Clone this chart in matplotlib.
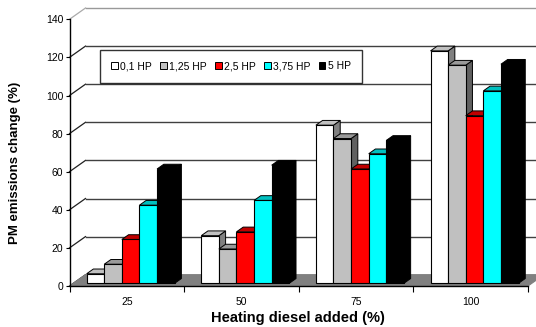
import matplotlib
matplotlib.use("Agg")
import matplotlib.pyplot as plt
from matplotlib.patches import Polygon, Patch

plt.rcParams['font.family'] = ['Liberation Sans', 'DejaVu Sans']

categories = ['25', '50', '75', '100']
series = ['0,1 HP', '1,25 HP', '2,5 HP', '3,75 HP', '5 HP']
v_01 = [5, 25, 83, 122]
v_125 = [10, 18, 76, 114.5]
v_25 = [23, 27, 60, 88]
v_375 = [41, 43.5, 68, 101]
v_5 = [60, 62, 75, 115]
values = [v_01, v_125, v_25, v_375, v_5]
yticks = [0, 20, 40, 60, 80, 100, 120, 140]

front_c = ['#ffffff', '#c0c0c0', '#ff0000', '#00ffff', '#000000']
top_c = ['#c0c0c0', '#9a9a9a', '#c00000', '#00c0c0', '#000000']
side_c = ['#808080', '#606060', '#800000', '#008080', '#000000']

W, H = 536, 327
fig = plt.figure(figsize=(W / 100, H / 100), dpi=100)
x0p, x1p, y0p, y1p = 69.5, 528, 286, 19.3
ax = fig.add_axes([x0p / W, 1 - y0p / H, (x1p - x0p) / W, (y0p - y1p) / H])
ax.set_xlim(-0.5, 3.5)
ax.set_ylim(0, 140)
ax.patch.set_visible(False)

sx = (x1p - x0p) / 4.0
sy = (y0p - y1p) / 140.0
DX = 16 / sx
DY = 11.3 / sy

# walls
for v in yticks:
    col = '#999999' if v == 140 else '#404040'
    ax.plot([-0.5, -0.5 + DX], [v, v + DY], color='#202020' if v < 140 else '#aaaaaa',
            lw=0.9, clip_on=False, zorder=0.5)
    ax.plot([-0.5 + DX, 3.5 + DX], [v + DY, v + DY], color=col, lw=1.0,
            clip_on=False, zorder=0.5)

# floor
ax.add_patch(Polygon([(-0.5, 0), (3.5, 0), (3.5 + DX, DY), (-0.5 + DX, DY)],
                     closed=True, facecolor='#808080', edgecolor='#808080',
                     lw=0.8, clip_on=False, zorder=1))

w = 0.1536
f0 = 0.24
fd = 0.42
ddx, ddy = fd * DX, fd * DY
z = 3.0
for c in range(len(categories)):
    for i in range(len(series)):
        val = values[i][c]
        xl = c + (i - 2.5) * w + f0 * DX
        xr = xl + w
        b = f0 * DY
        t = b + val
        ax.add_patch(Polygon([(xr, b), (xr + ddx, b + ddy), (xr + ddx, t + ddy), (xr, t)],
                             closed=True, facecolor=side_c[i], edgecolor='black',
                             lw=0.7, clip_on=False, zorder=z))
        ax.add_patch(Polygon([(xl, t), (xr, t), (xr + ddx, t + ddy), (xl + ddx, t + ddy)],
                             closed=True, facecolor=top_c[i], edgecolor='black',
                             lw=0.7, clip_on=False, zorder=z))
        ax.bar(xl, val, width=w, bottom=b, align='edge', color=front_c[i],
               edgecolor='black', lw=0.8, clip_on=False, zorder=z + 0.001)
        z += 0.01

for s in ['top', 'right']:
    ax.spines[s].set_visible(False)
for s in ['left', 'bottom']:
    ax.spines[s].set_color('black')
    ax.spines[s].set_linewidth(1.0)
    ax.spines[s].set_zorder(10)

ax.set_yticks(yticks)
ax.set_yticklabels([str(v) for v in yticks])
ax.tick_params(axis='y', direction='out', length=3, width=0.8, labelsize=7.5, pad=1.5, color='black')
ax.set_xticks(range(len(categories)))
ax.set_xticklabels(categories)
ax.tick_params(axis='x', which='major', length=0, labelsize=7.5, pad=8)
ax.set_xticks([-0.5, 0.5, 1.5, 2.5, 3.5], minor=True)
ax.tick_params(axis='x', which='minor', direction='out', length=4, width=0.8, color='black')

handles = [Patch(facecolor=front_c[i], edgecolor='black', lw=0.7, label=series[i])
           for i in range(len(series))]
leg = ax.legend(handles=handles, ncol=5, loc='upper left',
                bbox_to_anchor=(100 / W, 1 - 50 / H), bbox_transform=fig.transFigure,
                borderaxespad=0, fontsize=7.5, frameon=True, fancybox=False,
                handlelength=0.65, handleheight=0.65, handletextpad=0.2,
                columnspacing=0.8, borderpad=1.1)
leg.get_frame().set_edgecolor('black')
leg.get_frame().set_linewidth(1.0)
leg.set_zorder(20)

fig.text(15 / W, 1 - 163 / H, 'PM emissions change (%)', rotation=90,
         ha='center', va='center', fontsize=9.5, fontweight='bold')
fig.text(298 / W, 1 - 318 / H, 'Heating diesel added (%)',
         ha='center', va='center', fontsize=10.5, fontweight='bold')

fig.savefig('out.png', dpi=100)
